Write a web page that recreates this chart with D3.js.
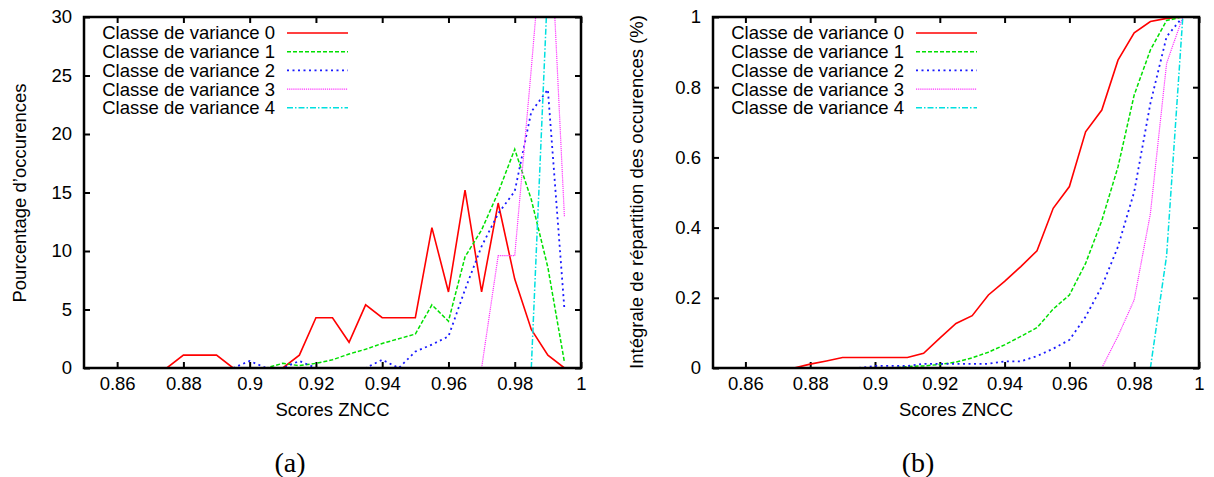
<!DOCTYPE html>
<html><head><meta charset="utf-8">
<script src="https://cdn.jsdelivr.net/npm/d3@7"></script>
<style>
body{margin:0;background:#fff}
svg text{font-family:"Liberation Sans",Arial,Helvetica,sans-serif}
</style>
</head><body>
<svg id="c" width="1214" height="477"></svg>
<script>
// ---------- data ----------
const scores = [0.850,0.855,0.860,0.865,0.870,0.875,0.880,0.885,0.890,0.895,0.900,0.905,0.910,0.915,0.920,0.925,0.930,0.935,0.940,0.945,0.950,0.955,0.960,0.965,0.970,0.975,0.980,0.985,0.990,0.995];
const seriesNames = ["Classe de variance 0","Classe de variance 1","Classe de variance 2","Classe de variance 3","Classe de variance 4"];
const _ = null;
// (a) percentage of occurrences
const pct0 = [_,_,_,_,_,0,1.1,1.1,1.1,0,0,0,0,1.1,4.3,4.3,2.2,5.4,4.3,4.3,4.3,12.0,6.5,15.2,6.5,14.1,7.6,3.3,1.1,0];
const pct1 = [_,_,_,_,_,_,_,_,0,0,0,0,0.4,0.2,0.4,0.7,1.2,1.6,2.1,2.5,2.9,5.4,4.0,9.5,11.8,15.0,18.7,14.4,8.6,0.5];
const pct2 = [_,_,_,_,_,_,_,_,_,0,0.6,0,0,0.6,0,0,0,0,0.7,0,1.4,2.0,2.7,6.7,10.4,13.2,15.1,21.9,23.8,5.0];
const pct3 = [_,_,_,_,_,_,_,_,_,_,_,_,_,_,_,_,_,_,_,_,_,_,_,_,0,9.6,9.6,25.6,42.4,12.9];
const pct4 = [_,_,_,_,_,_,_,_,_,_,_,_,_,_,_,_,_,_,_,_,_,_,_,_,_,_,_,0,33,67];
// (b) cumulative distribution
const cum0 = [_,_,_,_,_,0,0.011,0.02,0.03,0.03,0.03,0.03,0.03,0.042,0.085,0.127,0.149,0.208,0.247,0.289,0.334,0.455,0.517,0.673,0.735,0.877,0.955,0.987,0.996,1.0];
const cum1 = [_,_,_,_,_,_,_,_,0,0,0,0,0.004,0.006,0.01,0.017,0.029,0.045,0.066,0.09,0.115,0.168,0.208,0.298,0.42,0.573,0.778,0.906,0.99,1.0];
const cum2 = [_,_,_,_,_,_,_,_,_,0,0.006,0.006,0.006,0.012,0.012,0.012,0.012,0.012,0.019,0.019,0.034,0.055,0.08,0.146,0.232,0.346,0.502,0.754,0.944,1.0];
const cum3 = [_,_,_,_,_,_,_,_,_,_,_,_,_,_,_,_,_,_,_,_,_,_,_,_,0,0.091,0.194,0.44,0.868,1.0];
const cum4 = [_,_,_,_,_,_,_,_,_,_,_,_,_,_,_,_,_,_,_,_,_,_,_,_,_,_,_,0,0.32,1.0];
const xTicks = [0.86,0.88,0.90,0.92,0.94,0.96,0.98,1.00];
const xTickLabels = ["0.86","0.88","0.9","0.92","0.94","0.96","0.98","1"];
const yTicksA = [0,5,10,15,20,25,30];
const yTicksB = [0,0.2,0.4,0.6,0.8,1];
const yTickLabelsB = ["0","0.2","0.4","0.6","0.8","1"];

// ---------- styles ----------
const styles = [
  {color:"#ff0000", dash:null,        width:1.6},
  {color:"#00e000", dash:"4,2",       width:1.5},
  {color:"#1a1aff", dash:"2,3.5",     width:1.8},
  {color:"#ff33ff", dash:"1.2,0.9",   width:1.2},
  {color:"#00e0e0", dash:"6,2,1.5,2", width:1.5}
];
const FS = 18.5;
const svg = d3.select("#c");

function panel(cfg){
  const x = d3.scaleLinear().domain([0.85,1.0]).range([cfg.left,cfg.right]);
  const y = d3.scaleLinear().domain(cfg.yDomain).range([cfg.bottom,cfg.top]);
  const g = svg.append("g");
  const clipId = "clip"+cfg.id;
  svg.append("clipPath").attr("id",clipId).append("rect")
    .attr("x",cfg.left).attr("y",cfg.top).attr("width",cfg.right-cfg.left).attr("height",cfg.bottom-cfg.top);

  // axes (inner ticks, mirrored)
  const ax = g.append("g").attr("transform",`translate(0,${cfg.bottom})`)
    .call(d3.axisBottom(x).tickValues(xTicks).tickSize(-6).tickPadding(9).tickFormat((d,i)=>xTickLabels[i]));
  const axT = g.append("g").attr("transform",`translate(0,${cfg.top})`)
    .call(d3.axisTop(x).tickValues(xTicks).tickSize(-6).tickFormat(""));
  const ay = g.append("g").attr("transform",`translate(${cfg.left},0)`)
    .call(d3.axisLeft(y).tickValues(cfg.yTicks).tickSize(-6).tickPadding(12).tickFormat((d,i)=>cfg.yLabels[i]));
  const ayR = g.append("g").attr("transform",`translate(${cfg.right},0)`)
    .call(d3.axisRight(y).tickValues(cfg.yTicks).tickSize(-6).tickFormat(""));
  [ax,axT,ay,ayR].forEach(a=>{
    a.select(".domain").remove();
    a.selectAll(".tick line").attr("stroke","#000").attr("stroke-width",2);
    a.selectAll("text").attr("font-size",FS).attr("fill","#000").attr("font-family",null);
    a.attr("font-family",null).attr("font-size",null);
  });

  // lines
  const line = d3.line().defined(d=>d[1]!==null).x(d=>x(d[0])).y(d=>y(d[1]));
  const lines = g.append("g").attr("clip-path",`url(#${clipId})`);
  cfg.series.forEach((vals,i)=>{
    const st = styles[i];
    lines.append("path").datum(scores.map((s,k)=>[s,vals[k]]))
      .attr("d",line).attr("fill","none").attr("stroke",st.color)
      .attr("stroke-width",st.width).attr("stroke-dasharray",st.dash)
      .attr("stroke-linejoin","miter");
  });

  // frame
  g.append("rect").attr("x",cfg.left).attr("y",cfg.top)
    .attr("width",cfg.right-cfg.left).attr("height",cfg.bottom-cfg.top)
    .attr("fill","none").attr("stroke","#000").attr("stroke-width",2.5);

  // legend
  const lg = g.append("g");
  seriesNames.forEach((name,i)=>{
    const yy = cfg.top + 16 + i*18.7;
    lg.append("text").attr("x",cfg.legendTextX).attr("y",yy).attr("dy","0.35em")
      .attr("text-anchor","end").attr("font-size",FS).attr("fill","#000").text(name);
    const st = styles[i];
    lg.append("line").attr("x1",cfg.legendTextX+12).attr("x2",cfg.legendTextX+73)
      .attr("y1",yy).attr("y2",yy).attr("stroke",st.color).attr("stroke-width",st.width)
      .attr("stroke-dasharray",st.dash);
  });

  // axis titles
  g.append("text").attr("x",(cfg.left+cfg.right)/2).attr("y",410).attr("dy","0.35em")
    .attr("text-anchor","middle").attr("font-size",FS).attr("fill","#000").text("Scores ZNCC");
  g.append("text").attr("transform",`translate(${cfg.yTitleX},${cfg.yTitleY}) rotate(-90)`)
    .attr("dy","0.35em").attr("text-anchor","middle").attr("font-size",FS).attr("fill","#000").text(cfg.yTitle);
  g.append("text").attr("x",cfg.capX).attr("y",462).attr("dy","0.35em")
    .attr("text-anchor","middle").attr("font-size",28)
    .style("font-family",'"Liberation Serif","DejaVu Serif",serif').attr("fill","#000").text(cfg.caption);
}

panel({id:"a", left:84, right:581, top:17, bottom:368, yDomain:[0,30], yTicks:yTicksA,
  yLabels:yTicksA.map(String), series:[pct0,pct1,pct2,pct3,pct4], legendTextX:275,
  yTitle:"Pourcentage d’occurences", yTitleX:20, yTitleY:193, capX:290, caption:"(a)"});
panel({id:"b", left:713, right:1199, top:17, bottom:368, yDomain:[0,1], yTicks:yTicksB,
  yLabels:yTickLabelsB, series:[cum0,cum1,cum2,cum3,cum4], legendTextX:904,
  yTitle:"Intégrale de répartition des occurences (%)", yTitleX:637, yTitleY:192, capX:918, caption:"(b)"});
</script>
</body></html>
